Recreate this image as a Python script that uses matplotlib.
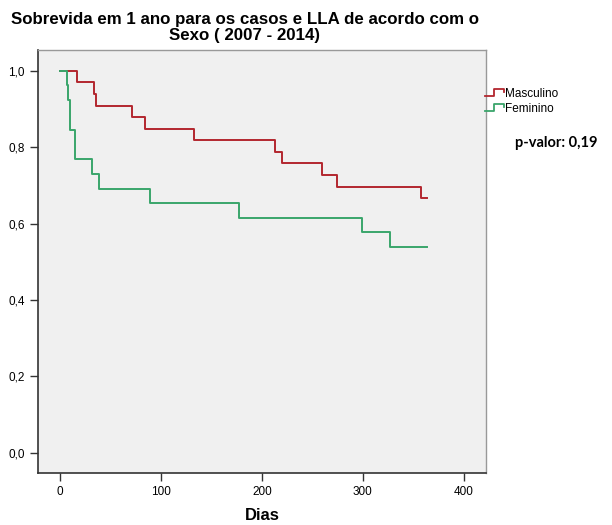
import matplotlib
matplotlib.use("Agg")
import matplotlib.pyplot as plt
from matplotlib.lines import Line2D
from matplotlib.legend_handler import HandlerBase

# Kaplan-Meier steps (dias, sobrevida)
masc_dias = [0, 17, 34, 36, 71, 84, 133, 213, 220, 260, 274, 358, 364]
masc_surv = [1.0, 0.970, 0.939, 0.909, 0.879, 0.848, 0.818, 0.788, 0.758, 0.727, 0.697, 0.667, 0.667]

fem_dias = [0, 7, 8, 10, 15, 32, 39, 89, 177, 299, 327, 364]
fem_surv = [1.0, 0.962, 0.923, 0.846, 0.769, 0.731, 0.692, 0.654, 0.615, 0.577, 0.538, 0.538]

grupos = ["Masculino", "Feminino"]
cores = ["#b3262e", "#3aa56b"]

yticks = [0.0, 0.2, 0.4, 0.6, 0.8, 1.0]
xticks = [0, 100, 200, 300, 400]

plt.rcParams["font.family"] = ["Liberation Sans", "DejaVu Sans"]


class StepHandler(HandlerBase):
    def create_artists(self, legend, orig_handle, xdescent, ydescent,
                       width, height, fontsize, trans):
        x0 = -xdescent
        y0 = -ydescent
        xs = [x0, x0 + width * 0.45, x0 + width * 0.45, x0 + width, x0 + width]
        ys = [y0 + height * 0.1, y0 + height * 0.1, y0 + height * 0.95,
              y0 + height * 0.95, y0 + height * 0.55]
        ln = Line2D(xs, ys, color=orig_handle.get_color(), lw=1.3, transform=trans)
        return [ln]


fig = plt.figure(figsize=(6.12, 5.25), dpi=100)
ax = fig.add_axes([0.062, 0.099, 0.732, 0.806])
ax.set_facecolor("#f0f0f0")

handles = []
for dias, surv, nome, cor in [(masc_dias, masc_surv, grupos[0], cores[0]),
                              (fem_dias, fem_surv, grupos[1], cores[1])]:
    h, = ax.step(dias, surv, where="post", color=cor, lw=1.4, label=nome)
    handles.append(h)

ax.set_xlim(-22, 422)
ax.set_ylim(-0.053, 1.055)
ax.set_xticks(xticks)
ax.set_yticks(yticks)
ax.set_yticklabels([f"{v:.1f}".replace(".", ",") for v in yticks])
ax.tick_params(labelsize=8.5, length=6, width=1, color="#333333", direction="out")

for s in ["left", "bottom"]:
    ax.spines[s].set_color("#333333")
    ax.spines[s].set_linewidth(1.2)
for s in ["top", "right"]:
    ax.spines[s].set_color("#999999")
    ax.spines[s].set_linewidth(1.0)

ax.set_xlabel("Dias", fontsize=12, fontweight="bold", labelpad=7)

fig.text(0.40, 0.978, "Sobrevida em 1 ano para os casos e LLA de acordo com o\nSexo ( 2007 - 2014)",
         ha="center", va="top", fontsize=12.2, fontweight="bold", linespacing=1.12)

ax.legend(handles=handles, labels=grupos, handler_map={Line2D: StepHandler()},
          loc="upper left", bbox_to_anchor=(0.785, 0.842), bbox_transform=fig.transFigure,
          frameon=False, fontsize=8.5, handlelength=1.6, handletextpad=0.1,
          labelspacing=0.25, borderaxespad=0)

fig.text(0.842, 0.727, "p-valor: 0,19", fontsize=10.5, fontweight="bold",
         family=["Lato", "DejaVu Sans"], va="center")

fig.savefig("out.png", dpi=100, facecolor="white")
